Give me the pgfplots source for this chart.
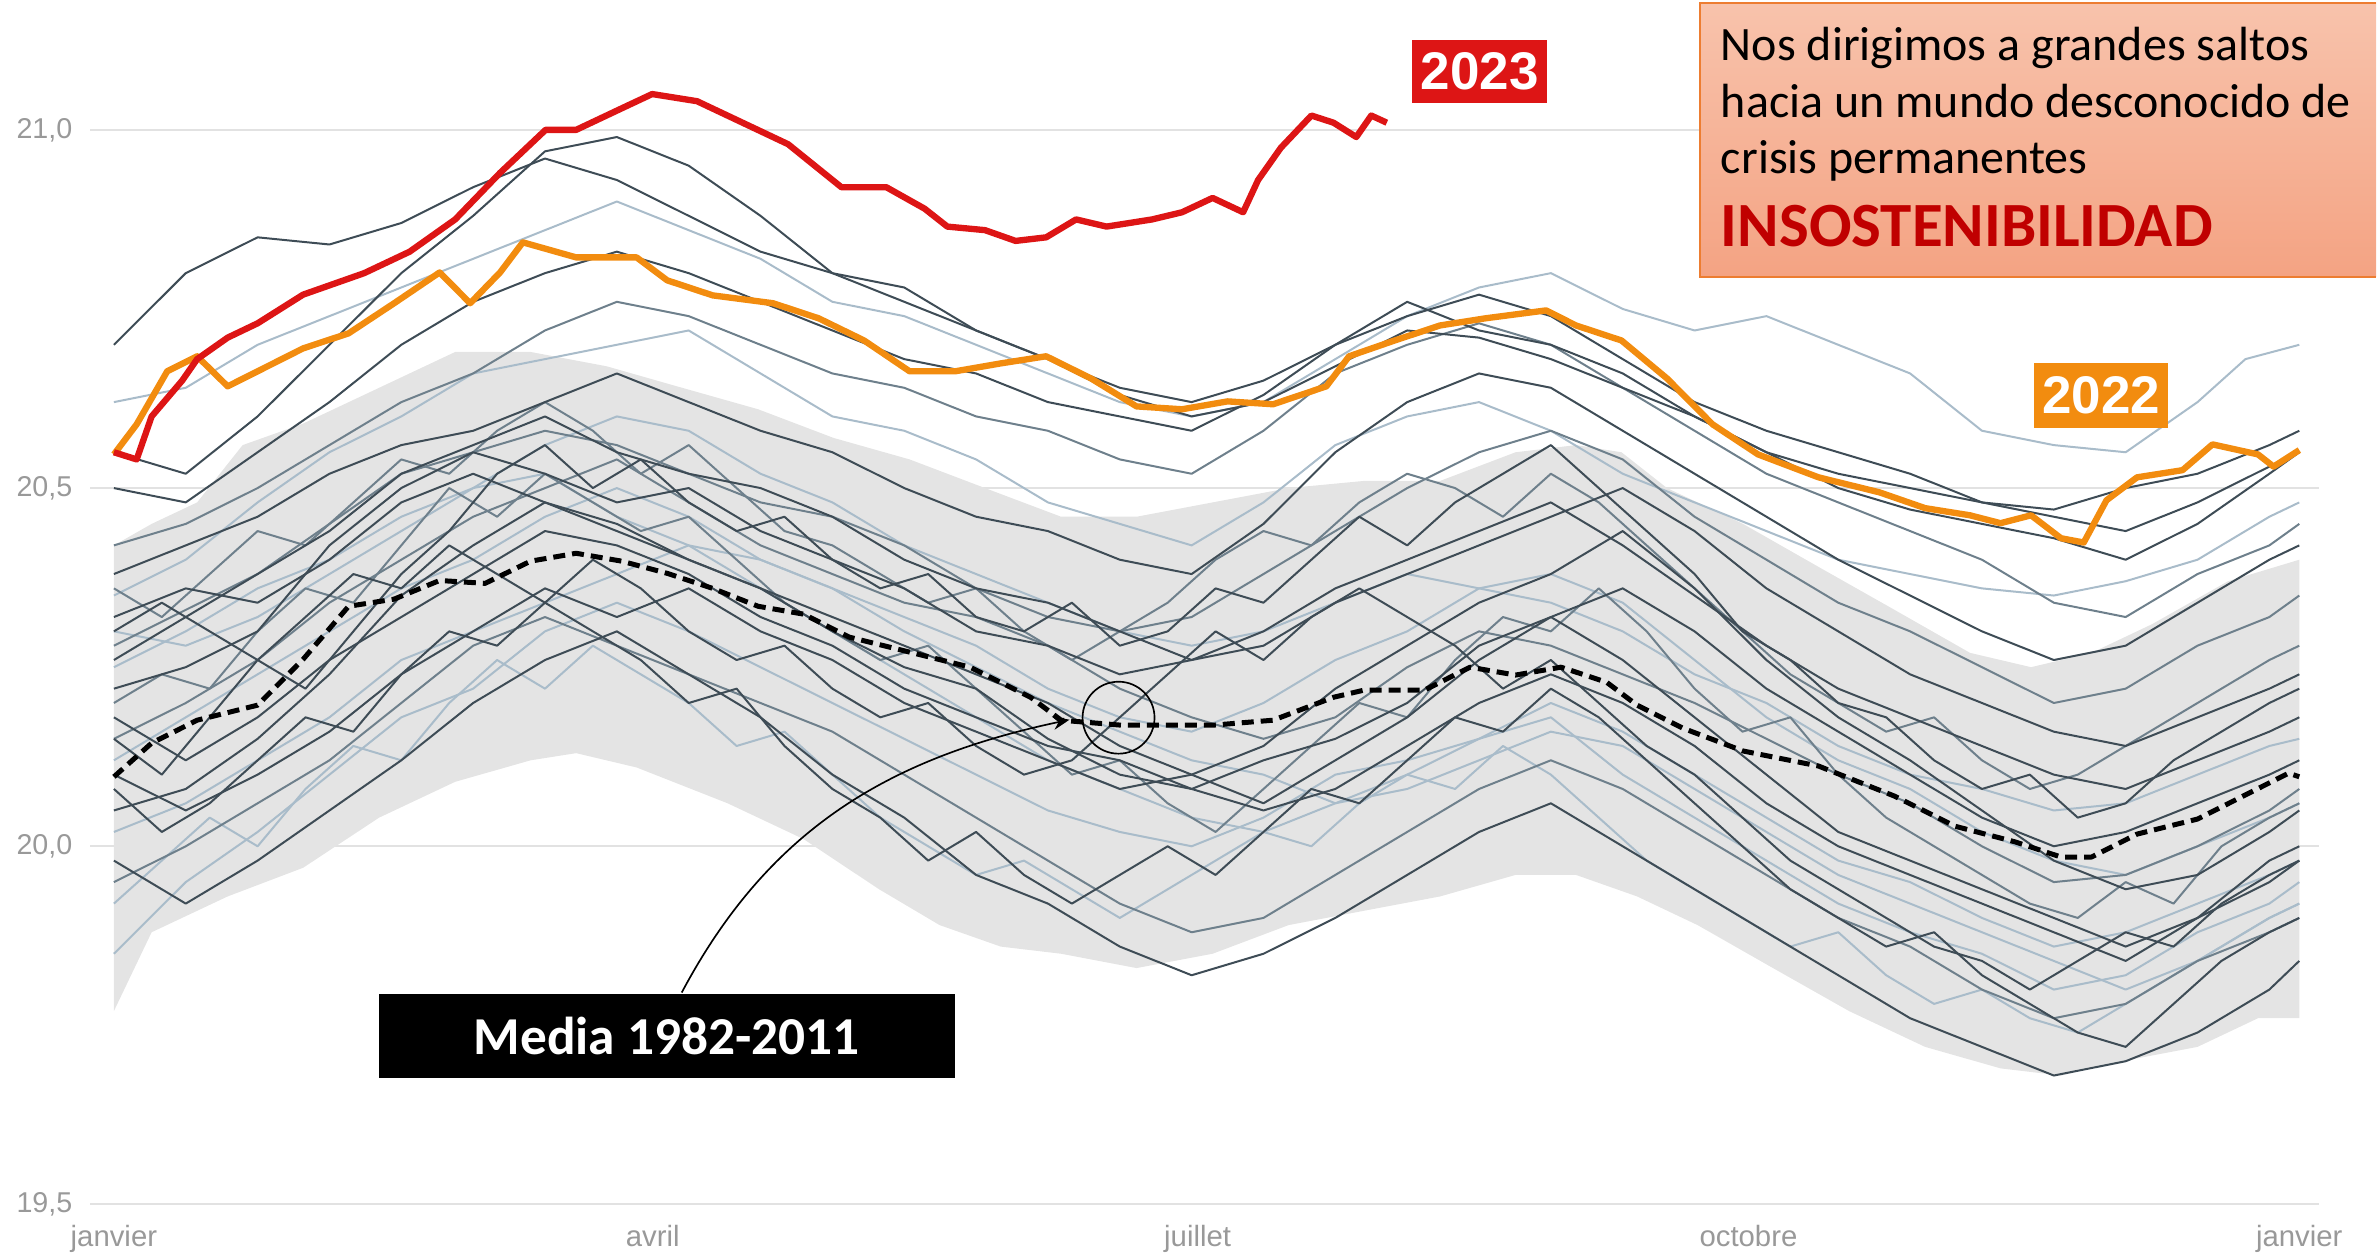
\documentclass[border=0pt]{standalone}
\usepackage{pgfplots}
\pgfplotsset{compat=1.18}
\usepgfplotslibrary{fillbetween}
\usetikzlibrary{arrows.meta}
\usepackage{fontspec}
\setmainfont{Liberation Sans}
\newfontfamily\calibri{Carlito}
\definecolor{dk}{HTML}{3E4C56}
\definecolor{md}{HTML}{6E808C}
\definecolor{lt}{HTML}{A9BCCA}
\definecolor{bandc}{HTML}{E4E4E4}
\definecolor{red23}{HTML}{DD1515}
\definecolor{or22}{HTML}{F28C0F}
\definecolor{gridc}{HTML}{E2E2E2}
\definecolor{tickc}{HTML}{999999}
\definecolor{boxtop}{HTML}{F8C3AC}
\definecolor{boxbot}{HTML}{F4A383}
\definecolor{boxborder}{HTML}{ED7D31}
\definecolor{insred}{HTML}{C00000}
\begin{document}
\begin{tikzpicture}
\begin{axis}[
  at={(0,0)}, anchor=south west,
  scale only axis, width=669pt, height=354.77pt,
  xmin=-4, xmax=368.3, ymin=19.5, ymax=21.15,
  axis line style={draw=none},
  major tick length=0pt,
  ymajorgrids, grid style={gridc, line width=0.6pt},
  ytick={19.5,20,20.5,21}, yticklabels={{19,5},{20,0},{20,5},{21,0}},
  xtick={0,90,181,273,365}, xticklabels={janvier,avril,juillet,octobre,janvier},
  yticklabel style={font=\fontsize{8.6}{10}\selectfont, text=tickc, anchor=east, inner sep=0pt, xshift=-5.1pt},
  xticklabel style={font=\fontsize{8.8}{10}\selectfont, text=tickc, anchor=base, inner sep=0pt, yshift=-12.6pt},
  clip=false,
  line join=round,
]
% band
\addplot[name path=up, draw=none, forget plot] coordinates {(0,20.42)(6.3,20.45)(13.9,20.48)(21.5,20.56)(31.6,20.59)(44.3,20.64)(57,20.69)(69.6,20.69)(82.3,20.67)(94.9,20.64)(107.6,20.61)(120.2,20.57)(132.9,20.54)(145.5,20.50)(158.2,20.46)(170.8,20.46)(183.5,20.48)(196.2,20.50)(208.8,20.51)(221.5,20.51)(234.1,20.55)(244.2,20.56)(251.8,20.55)(259.4,20.50)(272.1,20.45)(284.7,20.39)(297.4,20.33)(310,20.27)(320.2,20.25)(330.3,20.27)(340.4,20.31)(353.1,20.37)(365,20.40)};
\addplot[name path=lo, draw=none, forget plot] coordinates {(0,19.77)(6.3,19.88)(19,19.93)(31.6,19.97)(44.3,20.04)(57,20.09)(69.6,20.12)(77.2,20.13)(87.3,20.11)(102.5,20.06)(115.2,20.01)(127.8,19.94)(137.9,19.89)(148.1,19.86)(158.2,19.85)(170.8,19.83)(183.5,19.85)(196.2,19.89)(208.8,19.91)(221.5,19.93)(234.1,19.96)(244.2,19.96)(254.4,19.93)(264.5,19.89)(277.1,19.83)(289.8,19.77)(302.5,19.72)(315.1,19.69)(325.2,19.68)(335.4,19.70)(348,19.72)(358.1,19.76)(365,19.76)};
\addplot[fill=bandc, draw=none] fill between[of=up and lo];
% light lines
\addplot[lt, line width=0.6pt] coordinates {(0,20.62)(12,20.64)(24,20.70)(36,20.74)(48,20.78)(60,20.82)(72,20.86)(84,20.90)(96,20.86)(108,20.82)(120,20.76)(132,20.74)(144,20.70)(156,20.66)(168,20.62)(180,20.60)(192,20.62)(204,20.68)(216,20.74)(228,20.78)(240,20.80)(252,20.75)(264,20.72)(276,20.74)(288,20.70)(300,20.66)(312,20.58)(324,20.56)(336,20.55)(348,20.62)(356,20.68)(365,20.70)};
\addplot[lt, line width=0.6pt] coordinates {(0,20.35)(12,20.40)(24,20.48)(36,20.55)(48,20.60)(60,20.66)(72,20.68)(84,20.70)(96,20.72)(108,20.66)(120,20.60)(132,20.58)(144,20.54)(156,20.48)(168,20.45)(180,20.42)(192,20.48)(204,20.56)(216,20.60)(228,20.62)(240,20.58)(252,20.52)(264,20.48)(276,20.44)(288,20.40)(300,20.38)(312,20.36)(324,20.35)(336,20.37)(348,20.40)(360,20.46)(365,20.48)};
\addplot[lt, line width=0.6pt] coordinates {(0,19.85)(12,19.95)(24,20.02)(36,20.10)(48,20.18)(60,20.22)(72,20.30)(84,20.34)(96,20.30)(108,20.25)(120,20.20)(132,20.15)(144,20.10)(156,20.05)(168,20.02)(180,20.00)(192,20.04)(204,20.10)(216,20.12)(228,20.15)(240,20.18)(252,20.10)(264,20.04)(276,19.98)(288,19.92)(300,19.88)(312,19.85)(324,19.80)(336,19.82)(348,19.88)(360,19.92)(365,19.95)};
\addplot[lt, line width=0.6pt] coordinates {(0,20.30)(12,20.28)(24,20.32)(36,20.38)(48,20.44)(60,20.50)(72,20.56)(84,20.60)(96,20.58)(108,20.52)(120,20.48)(132,20.42)(144,20.38)(156,20.34)(168,20.30)(180,20.28)(192,20.30)(204,20.34)(216,20.38)(228,20.36)(240,20.34)(252,20.30)(264,20.24)(276,20.20)(288,20.14)(300,20.10)(312,20.08)(324,20.05)(336,20.06)(348,20.10)(360,20.14)(365,20.15)};
\addplot[lt, line width=0.6pt] coordinates {(0,20.25)(12,20.30)(24,20.36)(36,20.40)(48,20.46)(60,20.50)(72,20.52)(84,20.46)(96,20.42)(108,20.40)(120,20.36)(132,20.30)(144,20.25)(156,20.20)(168,20.16)(180,20.12)(192,20.10)(204,20.06)(216,20.10)(228,20.15)(240,20.20)(252,20.16)(264,20.10)(276,20.04)(288,19.98)(300,19.95)(312,19.90)(324,19.86)(336,19.88)(348,19.92)(360,19.96)(365,19.98)};
\addplot[lt, line width=0.6pt] coordinates {(0,20.02)(12,20.06)(24,20.12)(36,20.18)(48,20.26)(60,20.30)(72,20.34)(84,20.38)(96,20.42)(108,20.36)(120,20.30)(132,20.24)(144,20.18)(156,20.12)(168,20.08)(180,20.04)(192,20.02)(204,20.06)(216,20.08)(228,20.12)(240,20.16)(252,20.14)(264,20.08)(276,20.02)(288,19.96)(300,19.92)(312,19.88)(324,19.84)(336,19.80)(348,19.84)(360,19.90)(365,19.92)};
\addplot[lt, line width=0.6pt] coordinates {(0,20.12)(12,20.18)(24,20.24)(36,20.30)(48,20.36)(60,20.40)(72,20.46)(84,20.50)(96,20.46)(108,20.40)(120,20.36)(132,20.32)(144,20.28)(156,20.22)(168,20.18)(180,20.16)(192,20.20)(204,20.26)(216,20.30)(228,20.36)(240,20.38)(252,20.34)(264,20.26)(276,20.18)(288,20.12)(300,20.08)(312,20.02)(324,19.98)(336,19.96)(348,20.00)(360,20.04)(365,20.06)};
\addplot[lt, line width=0.6pt] coordinates {(0,19.92)(8,19.98)(16,20.04)(24,20.00)(32,20.08)(40,20.14)(48,20.12)(56,20.20)(64,20.26)(72,20.22)(80,20.28)(88,20.24)(96,20.20)(104,20.14)(112,20.16)(120,20.10)(128,20.04)(136,20.00)(144,19.96)(152,19.98)(160,19.94)(168,19.90)(176,19.94)(184,19.98)(192,20.02)(200,20.00)(208,20.06)(216,20.10)(224,20.08)(232,20.14)(240,20.10)(248,20.04)(256,19.98)(264,19.94)(272,19.90)(280,19.86)(288,19.88)(296,19.82)(304,19.78)(312,19.80)(320,19.76)(328,19.74)(336,19.78)(344,19.82)(352,19.86)(360,19.90)(365,19.92)};
% medium lines
\addplot[md, line width=0.6pt] coordinates {(0,20.42)(12,20.45)(24,20.50)(36,20.56)(48,20.62)(60,20.66)(72,20.72)(84,20.76)(96,20.74)(108,20.70)(120,20.66)(132,20.64)(144,20.60)(156,20.58)(168,20.54)(180,20.52)(192,20.58)(204,20.66)(216,20.70)(228,20.73)(240,20.70)(252,20.64)(264,20.58)(276,20.52)(288,20.48)(300,20.44)(312,20.40)(324,20.34)(336,20.32)(348,20.38)(360,20.42)(365,20.45)};
\addplot[md, line width=0.6pt] coordinates {(0,20.28)(12,20.33)(24,20.38)(36,20.45)(48,20.52)(60,20.55)(72,20.58)(84,20.56)(96,20.52)(108,20.48)(120,20.46)(132,20.42)(144,20.36)(156,20.32)(168,20.30)(180,20.32)(192,20.38)(204,20.44)(216,20.50)(228,20.55)(240,20.58)(252,20.54)(264,20.46)(276,20.40)(288,20.34)(300,20.30)(312,20.25)(324,20.20)(336,20.22)(348,20.28)(360,20.32)(365,20.35)};
\addplot[md, line width=0.6pt] coordinates {(0,20.15)(12,20.20)(24,20.26)(36,20.34)(48,20.40)(60,20.46)(72,20.50)(84,20.54)(96,20.48)(108,20.42)(120,20.38)(132,20.34)(144,20.32)(156,20.28)(168,20.22)(180,20.18)(192,20.15)(204,20.18)(216,20.25)(228,20.30)(240,20.28)(252,20.24)(264,20.20)(276,20.15)(288,20.10)(300,20.06)(312,20.00)(324,19.95)(336,19.96)(348,20.00)(360,20.05)(365,20.08)};
\addplot[md, line width=0.6pt] coordinates {(0,19.95)(12,20.00)(24,20.06)(36,20.12)(48,20.20)(60,20.28)(72,20.32)(84,20.28)(96,20.24)(108,20.20)(120,20.16)(132,20.10)(144,20.04)(156,19.98)(168,19.92)(180,19.88)(192,19.90)(204,19.96)(216,20.02)(228,20.08)(240,20.12)(252,20.08)(264,20.02)(276,19.96)(288,19.90)(300,19.86)(312,19.80)(324,19.76)(336,19.78)(348,19.84)(360,19.88)(365,19.90)};
\addplot[md, line width=0.6pt] coordinates {(0,20.20)(8,20.24)(16,20.22)(24,20.30)(32,20.36)(40,20.34)(48,20.42)(56,20.50)(64,20.46)(72,20.52)(80,20.48)(88,20.44)(96,20.46)(104,20.40)(112,20.34)(120,20.30)(128,20.26)(136,20.28)(144,20.22)(152,20.16)(160,20.10)(168,20.12)(176,20.06)(184,20.02)(192,20.08)(200,20.14)(208,20.20)(216,20.18)(224,20.26)(232,20.32)(240,20.30)(248,20.36)(256,20.30)(264,20.22)(272,20.16)(280,20.18)(288,20.10)(296,20.04)(304,20.00)(312,19.96)(320,19.92)(328,19.90)(336,19.95)(344,19.92)(352,20.00)(360,20.04)(365,20.06)};
\addplot[md, line width=0.6pt] coordinates {(0,20.36)(8,20.32)(16,20.38)(24,20.44)(32,20.42)(40,20.48)(48,20.54)(56,20.52)(64,20.58)(72,20.62)(80,20.58)(88,20.52)(96,20.56)(104,20.50)(112,20.44)(120,20.42)(128,20.38)(136,20.34)(144,20.36)(152,20.30)(160,20.26)(168,20.30)(176,20.34)(184,20.40)(192,20.44)(200,20.42)(208,20.48)(216,20.52)(224,20.50)(232,20.46)(240,20.52)(248,20.48)(256,20.42)(264,20.36)(272,20.30)(280,20.24)(288,20.20)(296,20.16)(304,20.18)(312,20.12)(320,20.08)(328,20.10)(336,20.14)(344,20.18)(352,20.22)(360,20.26)(365,20.28)};
% dark lines
\addplot[dk, line width=0.6pt] coordinates {(0,20.70)(12,20.80)(24,20.85)(36,20.84)(48,20.87)(60,20.92)(72,20.96)(84,20.93)(96,20.88)(108,20.83)(120,20.80)(132,20.76)(144,20.72)(156,20.68)(168,20.63)(180,20.60)(192,20.62)(204,20.67)(216,20.72)(228,20.71)(240,20.68)(252,20.64)(264,20.60)(276,20.55)(288,20.52)(300,20.50)(312,20.48)(324,20.46)(336,20.44)(348,20.48)(360,20.53)(365,20.55)};
\addplot[dk, line width=0.6pt] coordinates {(0,20.55)(12,20.52)(24,20.60)(36,20.70)(48,20.80)(60,20.88)(72,20.97)(84,20.99)(96,20.95)(108,20.88)(120,20.80)(132,20.78)(144,20.72)(156,20.68)(168,20.64)(180,20.62)(192,20.65)(204,20.70)(216,20.74)(228,20.77)(240,20.74)(252,20.68)(264,20.62)(276,20.58)(288,20.55)(300,20.52)(312,20.48)(324,20.47)(336,20.50)(348,20.52)(360,20.56)(365,20.58)};
\addplot[dk, line width=0.6pt] coordinates {(0,20.50)(12,20.48)(24,20.55)(36,20.62)(48,20.70)(60,20.76)(72,20.80)(84,20.83)(96,20.80)(108,20.76)(120,20.72)(132,20.68)(144,20.66)(156,20.62)(168,20.60)(180,20.58)(192,20.63)(204,20.70)(216,20.76)(228,20.72)(240,20.70)(252,20.66)(264,20.60)(276,20.55)(288,20.50)(300,20.47)(312,20.45)(324,20.43)(336,20.40)(348,20.45)(360,20.52)(365,20.55)};
\addplot[dk, line width=0.6pt] coordinates {(0,20.38)(12,20.42)(24,20.46)(36,20.52)(48,20.56)(60,20.58)(72,20.62)(84,20.66)(96,20.62)(108,20.58)(120,20.55)(132,20.50)(144,20.46)(156,20.44)(168,20.40)(180,20.38)(192,20.45)(204,20.55)(216,20.62)(228,20.66)(240,20.64)(252,20.58)(264,20.52)(276,20.46)(288,20.40)(300,20.35)(312,20.30)(324,20.26)(336,20.28)(348,20.34)(360,20.40)(365,20.42)};
\addplot[dk, line width=0.6pt] coordinates {(0,20.22)(12,20.25)(24,20.30)(36,20.42)(48,20.50)(60,20.55)(72,20.52)(84,20.48)(96,20.50)(108,20.44)(120,20.40)(132,20.36)(144,20.30)(156,20.28)(168,20.24)(180,20.26)(192,20.30)(204,20.36)(216,20.40)(228,20.44)(240,20.48)(252,20.42)(264,20.35)(276,20.28)(288,20.22)(300,20.18)(312,20.14)(324,20.10)(336,20.08)(348,20.12)(360,20.16)(365,20.18)};
\addplot[dk, line width=0.6pt] coordinates {(0,20.05)(12,20.08)(24,20.15)(36,20.24)(48,20.35)(60,20.42)(72,20.48)(84,20.45)(96,20.40)(108,20.36)(120,20.30)(132,20.25)(144,20.22)(156,20.15)(168,20.10)(180,20.08)(192,20.12)(204,20.15)(216,20.20)(228,20.28)(240,20.32)(252,20.26)(264,20.18)(276,20.10)(288,20.02)(300,19.98)(312,19.94)(324,19.90)(336,19.86)(348,19.90)(360,19.95)(365,19.98)};
\addplot[dk, line width=0.6pt] coordinates {(0,19.98)(12,19.92)(24,19.98)(36,20.05)(48,20.12)(60,20.20)(72,20.26)(84,20.30)(96,20.24)(108,20.18)(120,20.10)(132,20.04)(144,19.96)(156,19.92)(168,19.86)(180,19.82)(192,19.85)(204,19.90)(216,19.96)(228,20.02)(240,20.06)(252,20.00)(264,19.94)(276,19.88)(288,19.82)(300,19.76)(312,19.72)(324,19.68)(336,19.70)(348,19.74)(360,19.80)(365,19.84)};
\addplot[dk, line width=0.6pt] coordinates {(0,20.10)(12,20.05)(24,20.10)(36,20.16)(48,20.24)(60,20.30)(72,20.36)(84,20.32)(96,20.36)(108,20.30)(120,20.26)(132,20.20)(144,20.16)(156,20.12)(168,20.08)(180,20.10)(192,20.14)(204,20.22)(216,20.28)(228,20.34)(240,20.38)(252,20.44)(264,20.36)(276,20.26)(288,20.18)(300,20.12)(312,20.05)(324,19.98)(336,19.94)(348,19.96)(360,20.02)(365,20.05)};
\addplot[dk, line width=0.6pt] coordinates {(0,20.18)(12,20.12)(24,20.18)(36,20.26)(48,20.32)(60,20.38)(72,20.44)(84,20.42)(96,20.38)(108,20.32)(120,20.28)(132,20.22)(144,20.18)(156,20.14)(168,20.12)(180,20.08)(192,20.05)(204,20.08)(216,20.14)(228,20.20)(240,20.24)(252,20.20)(264,20.14)(276,20.06)(288,20.00)(300,19.96)(312,19.92)(324,19.88)(336,19.84)(348,19.90)(360,19.98)(365,20.00)};
\addplot[dk, line width=0.6pt] coordinates {(0,20.26)(12,20.32)(24,20.38)(36,20.44)(48,20.52)(60,20.56)(72,20.60)(84,20.55)(96,20.52)(108,20.50)(120,20.46)(132,20.40)(144,20.36)(156,20.34)(168,20.30)(180,20.26)(192,20.28)(204,20.34)(216,20.38)(228,20.42)(240,20.46)(252,20.50)(264,20.44)(276,20.36)(288,20.30)(300,20.24)(312,20.20)(324,20.16)(336,20.14)(348,20.18)(360,20.22)(365,20.24)};
\addplot[dk, line width=0.6pt] coordinates {(0,20.32)(12,20.36)(24,20.34)(36,20.40)(48,20.48)(60,20.52)(72,20.48)(84,20.44)(96,20.40)(108,20.36)(120,20.32)(132,20.28)(144,20.24)(156,20.20)(168,20.14)(180,20.10)(192,20.06)(204,20.12)(216,20.18)(228,20.26)(240,20.32)(252,20.36)(264,20.30)(276,20.22)(288,20.16)(300,20.10)(312,20.04)(324,20.00)(336,20.02)(348,20.06)(360,20.10)(365,20.12)};
\addplot[dk, line width=0.6pt] coordinates {(0,20.15)(8,20.10)(16,20.18)(24,20.26)(32,20.22)(40,20.30)(48,20.38)(56,20.44)(64,20.52)(72,20.56)(80,20.50)(88,20.54)(96,20.48)(104,20.44)(112,20.46)(120,20.40)(128,20.36)(136,20.38)(144,20.32)(152,20.30)(160,20.34)(168,20.28)(176,20.30)(184,20.36)(192,20.34)(200,20.40)(208,20.46)(216,20.42)(224,20.48)(232,20.52)(240,20.56)(248,20.50)(256,20.44)(264,20.38)(272,20.30)(280,20.26)(288,20.20)(296,20.18)(304,20.12)(312,20.08)(320,20.10)(328,20.04)(336,20.06)(344,20.12)(352,20.16)(360,20.20)(365,20.22)};
\addplot[dk, line width=0.6pt] coordinates {(0,20.30)(8,20.34)(16,20.30)(24,20.26)(32,20.32)(40,20.38)(48,20.36)(56,20.42)(64,20.38)(72,20.34)(80,20.40)(88,20.36)(96,20.30)(104,20.26)(112,20.28)(120,20.22)(128,20.18)(136,20.20)(144,20.14)(152,20.10)(160,20.12)(168,20.18)(176,20.24)(184,20.30)(192,20.26)(200,20.32)(208,20.36)(216,20.32)(224,20.28)(232,20.22)(240,20.26)(248,20.20)(256,20.14)(264,20.10)(272,20.04)(280,19.98)(288,19.94)(296,19.90)(304,19.86)(312,19.84)(320,19.80)(328,19.84)(336,19.88)(344,19.86)(352,19.92)(360,19.96)(365,19.98)};
\addplot[dk, line width=0.6pt] coordinates {(0,20.08)(8,20.02)(16,20.06)(24,20.12)(32,20.18)(40,20.16)(48,20.24)(56,20.30)(64,20.28)(72,20.34)(80,20.30)(88,20.26)(96,20.20)(104,20.22)(112,20.14)(120,20.08)(128,20.04)(136,19.98)(144,20.02)(152,19.96)(160,19.92)(168,19.96)(176,20.00)(184,19.96)(192,20.02)(200,20.08)(208,20.06)(216,20.12)(224,20.18)(232,20.16)(240,20.22)(248,20.18)(256,20.12)(264,20.06)(272,20.00)(280,19.94)(288,19.90)(296,19.86)(304,19.88)(312,19.82)(320,19.78)(328,19.74)(336,19.72)(344,19.78)(352,19.84)(360,19.88)(365,19.90)};
% mean 1982-2011
\addplot[black, line width=1.5pt, dash pattern=on 3.6pt off 2.1pt] coordinates {(0,20.097)(6.3,20.144)(13.9,20.176)(24,20.197)(31.6,20.261)(39.2,20.335)(46.8,20.345)(54.4,20.371)(62,20.367)(69.6,20.398)(77.2,20.409)(84.8,20.398)(92.4,20.381)(100,20.360)(107.6,20.335)(115.2,20.324)(122.8,20.292)(132.9,20.271)(143,20.250)(153.1,20.208)(158.2,20.176)(168.3,20.169)(183.5,20.169)(193.6,20.176)(203.7,20.208)(208.8,20.218)(218.9,20.218)(226.5,20.250)(234.1,20.239)(241.7,20.250)(249.3,20.229)(254.4,20.197)(262,20.165)(272.1,20.133)(284.7,20.112)(297.4,20.070)(307.5,20.028)(317.6,20.006)(325.2,19.985)(330.3,19.985)(337.9,20.017)(348,20.038)(355.6,20.070)(363.2,20.102)(365,20.097)};
% 2022
\addplot[or22, line width=1.9pt] coordinates {(0,20.547)(3.8,20.589)(8.9,20.663)(13.9,20.684)(19,20.642)(24,20.663)(31.6,20.695)(39.2,20.716)(46.8,20.758)(54.4,20.801)(59.5,20.758)(64.5,20.801)(68.3,20.843)(77.2,20.822)(87.3,20.822)(92.4,20.790)(100,20.769)(110.1,20.758)(117.7,20.737)(125.3,20.706)(132.9,20.663)(140.5,20.663)(148.1,20.674)(155.7,20.684)(163.2,20.653)(170.8,20.614)(178.4,20.610)(186,20.621)(193.6,20.617)(202.5,20.642)(206.3,20.684)(213.9,20.706)(221.5,20.727)(229.1,20.737)(239.2,20.748)(244.2,20.727)(251.8,20.706)(259.4,20.653)(267,20.589)(274.6,20.547)(284.7,20.515)(294.9,20.494)(302.5,20.472)(310,20.462)(315.1,20.451)(320.2,20.462)(325.2,20.430)(329,20.424)(332.8,20.483)(337.9,20.515)(345.5,20.525)(350.5,20.561)(358.1,20.547)(360.7,20.530)(365,20.553)};
% 2023
\addplot[red23, line width=1.9pt] coordinates {(0,20.55)(3.8,20.54)(6.3,20.60)(11.4,20.65)(13.9,20.68)(19,20.71)(24,20.73)(31.6,20.77)(41.8,20.80)(49.4,20.83)(57,20.875)(64.5,20.94)(72.1,21.0)(77.2,21.0)(84.8,21.03)(89.9,21.05)(97.4,21.04)(105,21.01)(112.6,20.98)(121.5,20.92)(129,20.92)(135.4,20.89)(139.2,20.865)(145.5,20.86)(150.6,20.845)(155.7,20.85)(160.7,20.875)(165.8,20.865)(173.4,20.875)(178.4,20.885)(183.5,20.905)(188.6,20.885)(191.1,20.93)(194.9,20.975)(200,21.02)(203.7,21.01)(207.5,20.99)(210,21.02)(212.6,21.01)};
\end{axis}
% annotations
\node[fill=red23, text=white, font=\bfseries\fontsize{15.9}{18}\selectfont, minimum width=40.5pt, minimum height=18.9pt, inner sep=0pt] at (417.15pt,340.05pt) {2023};
\node[fill=or22, text=white, font=\bfseries\fontsize{15.9}{18}\selectfont, minimum width=40.2pt, minimum height=19.5pt, inner sep=0pt] at (603.6pt,242.85pt) {2022};
\draw[line width=0.5pt] (308.7pt,146.1pt) circle (10.8pt);
\draw[line width=0.5pt, -{Stealth[length=5pt,width=4pt]}] (177.6pt,63.6pt) to[out=62,in=192] (294pt,145.5pt);
\node[fill=black, text=white, font=\calibri\bfseries\fontsize{16}{19}\selectfont, minimum width=172.8pt, minimum height=25.2pt, inner sep=0pt] at (173.1pt,50.7pt) {Media 1982-2011};
\fill[top color=boxtop, bottom color=boxbot] (483.3pt,278.4pt) rectangle (686.1pt,360.6pt);
\draw[boxborder, line width=0.6pt] (686.1pt,360.6pt) -- (483.3pt,360.6pt) -- (483.3pt,278.4pt) -- (686.1pt,278.4pt);
\node[anchor=base west, inner sep=0pt, font=\calibri\fontsize{14.4}{17}\selectfont] at (489.3pt,343.2pt) {Nos dirigimos a grandes saltos};
\node[anchor=base west, inner sep=0pt, font=\calibri\fontsize{14.4}{17}\selectfont] at (489.3pt,326.1pt) {hacia un mundo desconocido de};
\node[anchor=base west, inner sep=0pt, font=\calibri\fontsize{14.4}{17}\selectfont] at (489.3pt,309.3pt) {crisis permanentes};
\node[anchor=base west, inner sep=0pt, text=insred, font=\calibri\bfseries\fontsize{18.9}{22}\selectfont] at (489.3pt,287.4pt) {INSOSTENIBILIDAD};
\path (-27pt,-15.6pt) rectangle (686.1pt,361.5pt);
\end{tikzpicture}
\end{document}
